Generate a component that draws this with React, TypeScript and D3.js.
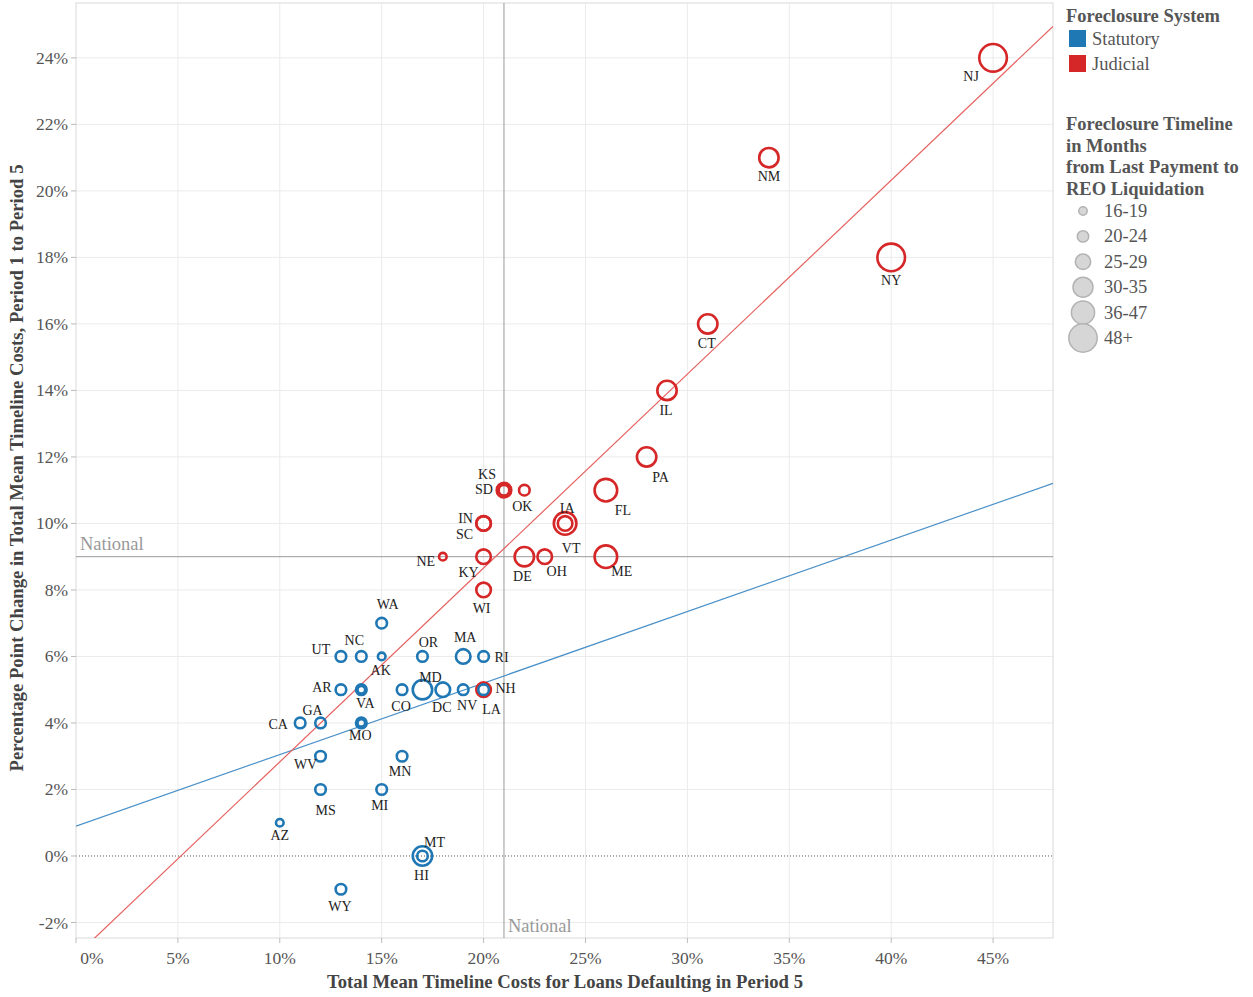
import React from "react";
import * as d3 from "d3";

// ---- Data ----
const statutoryStates = ["WA","UT","NC","AK","OR","MA","RI","AR","VA","CO","MD","DC","NV","NH","CA","GA","MO","WV","MN","MS","MI","AZ","MT","HI","WY","",""];
const statutoryX = [15,13,14,15,17,19,20,13,14,16,17,18,19,20,11,12,14,12,16,12,15,10,17,17,13,14,14];
const statutoryY = [7,6,6,6,6,6,6,5,5,5,5,5,5,5,4,4,4,3,3,2,2,1,0,0,-1,5,4];
const statutorySize = ["20-24","20-24","20-24","16-19","20-24","25-29","20-24","20-24","20-24","20-24","30-35","25-29","20-24","20-24","20-24","20-24","20-24","20-24","20-24","20-24","20-24","16-19","30-35","20-24","20-24","16-19","16-19"];

const judicialStates = ["NJ","NM","NY","CT","IL","PA","FL","KS","SD","OK","IA","VT","IN","SC","NE","KY","DE","OH","ME","WI","LA"];
const judicialX = [45,34,40,31,29,28,26,21,21,22,24,24,20,20,18,20,22,23,26,20,20];
const judicialY = [24,21,18,16,14,12,11,11,11,11,10,10,10,10,9,9,9,9,9,8,5];
const judicialSize = ["48+","30-35","48+","30-35","30-35","30-35","36-47","25-29","20-24","20-24","36-47","25-29","25-29","25-29","16-19","25-29","30-35","25-29","36-47","25-29","25-29"];

const sizeCategories = ["16-19","20-24","25-29","30-35","36-47","48+"];
const systemNames = ["Statutory","Judicial"];
const xTicks = [0,5,10,15,20,25,30,35,40,45];
const yTicks = [-2,0,2,4,6,8,10,12,14,16,18,20,22,24];
const nationalX = 21;
const nationalY = 9;
// trend lines (y = slope * x + intercept), in percent
const trendSlopes = [0.215, 0.583];
const trendIntercepts = [0.9, -3.0];

// label placement offsets (dx, dy) relative to mark
const labelOffsets: Record<string, [number, number]> = {
  NJ: [-22, 19], NM: [0, 19], NY: [0, 23], CT: [-1, 20], IL: [-1, 20], PA: [14, 21],
  FL: [17, 20], KS: [-17, -16], SD: [-20, -1], OK: [-2, 16], IA: [2, -15], VT: [6, 25],
  IN: [-18, -5], SC: [-19, 11], NE: [-17, 5], KY: [-15, 16], DE: [-2, 20], OH: [12, 15],
  ME: [16, 15], WI: [-2, 19], LA: [8, 20], WA: [6, -19], UT: [-20, -7], NC: [-7, -16],
  AK: [-1, 14], OR: [6, -14], MA: [2, -19], RI: [18, 1], AR: [-19, -2], VA: [4, 14],
  CO: [-1, 17], MD: [8, -12], DC: [-1, 18], NV: [4, 16], NH: [22, -1], CA: [-22, 2],
  GA: [-8, -12], MO: [-1, 13], WV: [-15, 8], MN: [-2, 15], MS: [5, 21], MI: [-2, 16],
  AZ: [0, 13], MT: [12, -13], HI: [-1, 20], WY: [-1, 17],
};

const COLORS = { Statutory: "#1f77b4", Judicial: "#d62728" };
const TREND_COLORS = ["#4a90c8", "#e5615f"];
const FONT = "'Liberation Serif', 'Times New Roman', serif";

export default function App() {
  const left = 76, right = 1053, top = 3, bottom = 938;
  const x = d3.scaleLinear().domain([0, 47.94]).range([left, right]);
  const y = d3.scaleLinear().domain([-2.466, 25.65]).range([bottom, top]);
  const r = d3.scaleOrdinal<string, number>().domain(sizeCategories).range([3.8, 5.3, 7.3, 9.7, 11.3, 13.8]);
  const legendR = d3.scaleOrdinal<string, number>().domain(sizeCategories).range([4.2, 5.7, 7.7, 10.0, 11.6, 14.2]);

  const points: { s: string; x: number; y: number; size: string; sys: "Statutory" | "Judicial" }[] = [];
  judicialStates.forEach((s, i) => points.push({ s, x: judicialX[i], y: judicialY[i], size: judicialSize[i], sys: "Judicial" }));
  statutoryStates.forEach((s, i) => points.push({ s, x: statutoryX[i], y: statutoryY[i], size: statutorySize[i], sys: "Statutory" }));

  const [xd0, xd1] = x.domain();
  const line = d3.line<[number, number]>().x(d => x(d[0])).y(d => y(d[1]));

  return (
    <svg width={1253} height={997} style={{ position: "absolute", left: 0, top: 0, fontFamily: FONT }}>
      <defs>
        <clipPath id="plotclip"><rect x={left} y={top} width={right - left} height={bottom - top} /></clipPath>
      </defs>
      <rect x={0} y={0} width={1253} height={997} fill="#fff" />
      {/* gridlines */}
      {xTicks.slice(1).map(t => (
        <line key={"gx" + t} x1={x(t)} x2={x(t)} y1={top} y2={bottom} stroke="#ebebeb" strokeWidth={1} />
      ))}
      {yTicks.filter(t => t !== 0).map(t => (
        <line key={"gy" + t} x1={left} x2={right} y1={y(t)} y2={y(t)} stroke="#ebebeb" strokeWidth={1} />
      ))}
      {/* zero line */}
      <line x1={left} x2={right} y1={y(0)} y2={y(0)} stroke="#555" strokeWidth={1} strokeDasharray="1,2" />
      {/* border */}
      <rect x={left} y={top} width={right - left} height={bottom - top} fill="none" stroke="#d9d9d9" strokeWidth={1} />
      {/* ticks */}
      {yTicks.map(t => (
        <g key={"ty" + t}>
          <line x1={left - 5} x2={left} y1={y(t)} y2={y(t)} stroke="#bbb" />
          <text x={left - 8} y={y(t) + 6} textAnchor="end" fontSize={17.5} fill="#555">{t}%</text>
        </g>
      ))}
      {xTicks.map(t => (
        <g key={"tx" + t}>
          <line x1={x(t)} x2={x(t)} y1={bottom} y2={bottom + 5} stroke="#bbb" />
          <text x={t === 0 ? x(t) + 16 : x(t)} y={964} textAnchor="middle" fontSize={17.5} fill="#555">{t}%</text>
        </g>
      ))}
      {/* national reference lines */}
      <line x1={x(nationalX)} x2={x(nationalX)} y1={top} y2={bottom} stroke="#999" strokeWidth={1} />
      <line x1={left} x2={right} y1={y(nationalY)} y2={y(nationalY)} stroke="#999" strokeWidth={1} />
      <text x={left + 4} y={y(nationalY) - 7} fontSize={18.5} fill="#999">National</text>
      <text x={x(nationalX) + 4} y={bottom - 6} fontSize={18.5} fill="#999">National</text>
      {/* trend lines */}
      <g clipPath="url(#plotclip)">
        {trendSlopes.map((m, i) => (
          <path key={"tr" + i}
            d={line([[xd0, m * xd0 + trendIntercepts[i]], [xd1, m * xd1 + trendIntercepts[i]]]) || ""}
            stroke={TREND_COLORS[i]} strokeWidth={1.2} fill="none" />
        ))}
      </g>
      {/* points */}
      <g clipPath="url(#plotclip)">
        {points.map((p, i) => (
          <circle key={"c" + i} cx={x(p.x)} cy={y(p.y)} r={r(p.size)} fill="none"
            stroke={COLORS[p.sys]} strokeWidth={2.6} />
        ))}
      </g>
      {/* labels */}
      {points.filter(p => p.s).map((p, i) => {
        const off = labelOffsets[p.s] || [0, 16];
        return (
          <text key={"l" + i} x={x(p.x) + off[0]} y={y(p.y) + off[1]} textAnchor="middle"
            dominantBaseline="central" fontSize={14} fill="#222">{p.s}</text>
        );
      })}
      {/* axis titles */}
      <text x={565} y={988} textAnchor="middle" fontSize={18} fontWeight="bold" fill="#444"
        textLength={476} lengthAdjust="spacingAndGlyphs">Total Mean Timeline Costs for Loans Defaulting in Period 5</text>
      <text transform="translate(23,468) rotate(-90)" textAnchor="middle" fontSize={18} fontWeight="bold" fill="#444"
        textLength={607} lengthAdjust="spacingAndGlyphs">Percentage Point Change in Total Mean Timeline Costs, Period 1 to Period 5</text>
      {/* legend: system */}
      <text x={1066} y={22} fontSize={18.5} fontWeight="bold" fill="#555">Foreclosure System</text>
      {systemNames.map((s, i) => (
        <g key={"ls" + s}>
          <rect x={1069} y={30 + i * 25} width={17} height={17} fill={COLORS[s as "Statutory"]} />
          <text x={1092} y={45 + i * 25} fontSize={18.5} fill="#555">{s}</text>
        </g>
      ))}
      {/* legend: size */}
      {["Foreclosure Timeline", "in Months", "from Last Payment to", "REO Liquidation"].map((t, i) => (
        <text key={"lt" + i} x={1066} y={130 + i * 21.5} fontSize={18.5} fontWeight="bold" fill="#555">{t}</text>
      ))}
      {sizeCategories.map((c, i) => (
        <g key={"lz" + c}>
          <circle cx={1083} cy={211 + i * 25.4} r={legendR(c)} fill="#d6d6d6" stroke="#b3b3b3" strokeWidth={1.5} />
          <text x={1104} y={217 + i * 25.4} fontSize={18.5} fill="#555">{c}</text>
        </g>
      ))}
    </svg>
  );
}
